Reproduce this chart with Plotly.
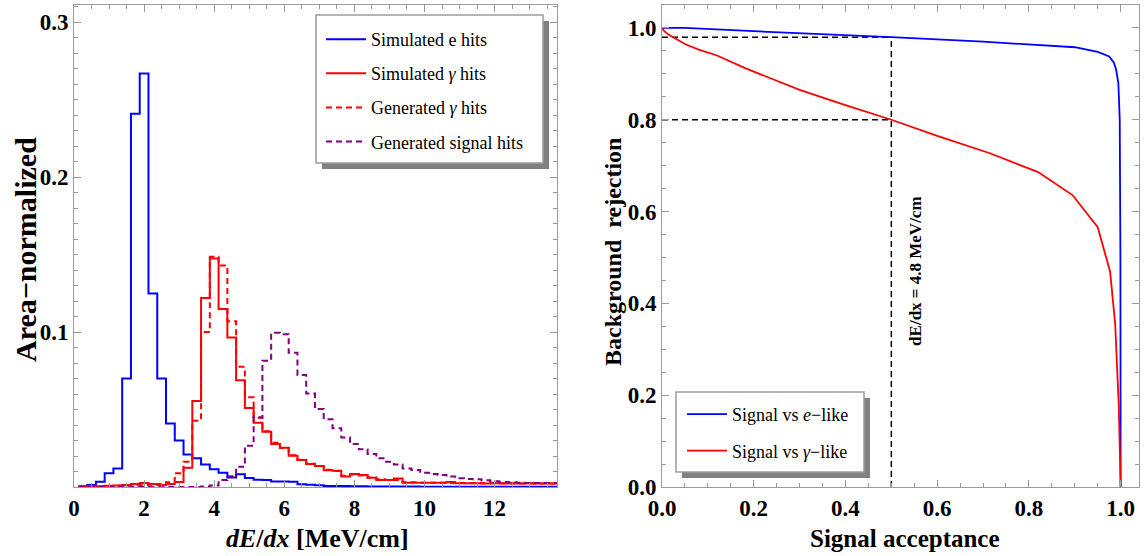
import plotly.graph_objects as go

# ---------------- data: left panel (area-normalized dE/dx histograms) ----------------
bin_start = 0.125
bin_width = 0.25

sim_e_hits = [0.0005, 0.0013, 0.0034, 0.0088, 0.0120, 0.0700, 0.2410, 0.2670, 0.1250, 0.0700,
              0.0410, 0.0300, 0.0210, 0.0185, 0.0145, 0.0114, 0.0092, 0.0062, 0.0083, 0.0058,
              0.0047, 0.0045, 0.0036, 0.0035, 0.0034, 0.0018, 0.0014, 0.0012, 0.0007, 0.0006,
              0.0006, 0.0005, 0.0005, 0.0004, 0.0004, 0.0004, 0.0003, 0.0003, 0.0003, 0.0002,
              0.0002, 0.0002, 0.0002, 0.0001, 0.0001, 0.0001, 0.0001, 0.0001, 0.0001, 0.0001,
              0.0001, 0.0001, 0.0001, 0.0001, 0.0001]

sim_gamma_hits = [0.0003, 0.0005, 0.0005, 0.0008, 0.0010, 0.0013, 0.0020, 0.0026, 0.0020, 0.0013,
                  0.0020, 0.0032, 0.0125, 0.0555, 0.1220, 0.1475, 0.1150, 0.0966, 0.0690, 0.0510,
                  0.0415, 0.0357, 0.0277, 0.0254, 0.0202, 0.0174, 0.0148, 0.0135, 0.0108, 0.0105,
                  0.0067, 0.0084, 0.0077, 0.0060, 0.0045, 0.0045, 0.0055, 0.0028, 0.0028, 0.0027,
                  0.0028, 0.0028, 0.0032, 0.0024, 0.0024, 0.0025, 0.0023, 0.0024, 0.0023, 0.0024,
                  0.0023, 0.0024, 0.0023, 0.0023, 0.0023]

gen_gamma_hits = [0.0002, 0.0003, 0.0004, 0.0005, 0.0008, 0.0010, 0.0012, 0.0012, 0.0015, 0.0020,
                  0.0030, 0.0088, 0.0163, 0.0428, 0.1000, 0.1486, 0.1430, 0.1070, 0.0776, 0.0580,
                  0.0447, 0.0360, 0.0285, 0.0252, 0.0205, 0.0176, 0.0150, 0.0135, 0.0112, 0.0104,
                  0.0072, 0.0080, 0.0075, 0.0062, 0.0050, 0.0046, 0.0045, 0.0031, 0.0030, 0.0028,
                  0.0027, 0.0027, 0.0026, 0.0026, 0.0025, 0.0025, 0.0024, 0.0024, 0.0024, 0.0023,
                  0.0023, 0.0023, 0.0023, 0.0023, 0.0023]

gen_signal_hits = [0.0000, 0.0000, 0.0000, 0.0000, 0.0000, 0.0000, 0.0000, 0.0000, 0.0000, 0.0000,
                   0.0000, 0.0000, 0.0000, 0.0000, 0.0003, 0.0010, 0.0045, 0.0070, 0.0130, 0.0267,
                   0.0450, 0.0815, 0.0996, 0.0987, 0.0866, 0.0723, 0.0604, 0.0503, 0.0437, 0.0379,
                   0.0320, 0.0277, 0.0243, 0.0213, 0.0185, 0.0163, 0.0146, 0.0120, 0.0110, 0.0092,
                   0.0084, 0.0077, 0.0067, 0.0056, 0.0052, 0.0050, 0.0043, 0.0037, 0.0032, 0.0030,
                   0.0028, 0.0026, 0.0026, 0.0026, 0.0026]

# ---------------- data: right panel (rejection vs acceptance) ----------------
e_like_acc = [0.0, 0.05, 0.2, 0.4, 0.5, 0.7, 0.9, 0.95, 0.975, 0.985, 0.99, 0.995, 0.998, 0.9995, 1.0]
e_like_rej = [1.0, 1.0, 0.993, 0.985, 0.980, 0.970, 0.958, 0.948, 0.938, 0.925, 0.910, 0.880, 0.800, 0.500, 0.0]

gamma_like_acc = [0.0, 0.005, 0.015, 0.03, 0.05, 0.08, 0.12, 0.18, 0.25, 0.30, 0.40, 0.50, 0.60,
                  0.715, 0.82, 0.895, 0.95, 0.977, 0.988, 0.996, 1.0]
gamma_like_rej = [1.0, 0.993, 0.985, 0.977, 0.965, 0.953, 0.940, 0.913, 0.885, 0.865, 0.832, 0.800,
                  0.765, 0.727, 0.686, 0.636, 0.566, 0.469, 0.356, 0.175, 0.0]

cut_acceptance = 0.5
cut_rej_e = 0.98
cut_rej_gamma = 0.80
cut_label = "dE/dx = 4.8 MeV/cm"

left_xticks = [0, 2, 4, 6, 8, 10, 12]
left_yticks = [0.1, 0.2, 0.3]
right_ticks = [0.0, 0.2, 0.4, 0.6, 0.8, 1.0]

# ---------------- figure ----------------
W, H = 1145, 556
FONT = "Liberation Serif"
BLUE, RED, PURPLE = "#0000FF", "#FF0000", "#800080"
FRAME = "#9a9a9a"


def px(x):
    return x / W


def py(y):
    return 1 - y / H


def steps(vals):
    edges = [bin_start + bin_width * k for k in range(len(vals) + 1)]
    return edges, list(vals) + [vals[-1]]


fig = go.Figure()

hist_specs = [
    ("Simulated e hits", sim_e_hits, BLUE, "solid"),
    ("Simulated <i>γ</i> hits", sim_gamma_hits, RED, "solid"),
    ("Generated <i>γ</i> hits", gen_gamma_hits, RED, "6px,4px"),
    ("Generated signal hits", gen_signal_hits, PURPLE, "6px,4px"),
]
for i, (name, vals, col, dash) in enumerate(hist_specs):
    xs, ys = steps(vals)
    fig.add_trace(go.Scatter(x=xs, y=ys, mode="lines", name=name, line_shape="hv",
                             line=dict(color=col, width=2, dash=dash),
                             xaxis="x", yaxis="y", legend="legend", legendgroup=f"h{i}"))

# dashed guide lines (right panel)
guide = dict(color="black", width=1.5, dash="6px,4px")
fig.add_trace(go.Scatter(x=[0, cut_acceptance], y=[cut_rej_e, cut_rej_e], mode="lines", line=guide,
                         xaxis="x2", yaxis="y2", showlegend=False, hoverinfo="skip"))
fig.add_trace(go.Scatter(x=[0, cut_acceptance], y=[cut_rej_gamma, cut_rej_gamma], mode="lines", line=guide,
                         xaxis="x2", yaxis="y2", showlegend=False, hoverinfo="skip"))
fig.add_trace(go.Scatter(x=[cut_acceptance, cut_acceptance], y=[0, cut_rej_e], mode="lines", line=guide,
                         xaxis="x2", yaxis="y2", showlegend=False, hoverinfo="skip"))

fig.add_trace(go.Scatter(x=e_like_acc, y=e_like_rej, mode="lines", name="Signal vs <i>e</i>−like",
                         line=dict(color=BLUE, width=1.8), xaxis="x2", yaxis="y2",
                         legend="legend2", legendgroup="r0"))
fig.add_trace(go.Scatter(x=gamma_like_acc, y=gamma_like_rej, mode="lines", name="Signal vs <i>γ</i>−like",
                         line=dict(color=RED, width=1.8), xaxis="x2", yaxis="y2",
                         legend="legend2", legendgroup="r1"))

tickfont = dict(family=FONT, size=23, color="black", weight="bold")
axis_common = dict(showgrid=False, zeroline=False, showline=True, linecolor=FRAME, linewidth=1,
                   mirror="ticks", ticks="inside", ticklen=7, tickcolor=FRAME, tickwidth=1,
                   tickfont=tickfont, automargin=False)

fig.update_layout(
    width=W, height=H, margin=dict(l=0, r=0, t=0, b=0),
    paper_bgcolor="white", plot_bgcolor="white",
    xaxis=dict(domain=[px(74), px(557)], range=[0, 13.78], tickvals=left_xticks,
               minor=dict(dtick=0.5, tick0=0, ticklen=4, ticks="inside", tickcolor=FRAME),
               anchor="y", **axis_common),
    yaxis=dict(domain=[1 - 487 / H, 1 - 5 / H], range=[0, 0.3112], tickvals=left_yticks,
               ticktext=[f"{v:.1f}" for v in left_yticks],
               minor=dict(dtick=0.01, tick0=0, ticklen=4, ticks="inside", tickcolor=FRAME),
               anchor="x", **axis_common),
    xaxis2=dict(domain=[px(662), px(1139)], range=[0, 1.04], tickvals=right_ticks,
                ticktext=[f"{v:.1f}" for v in right_ticks],
                minor=dict(dtick=0.05, tick0=0, ticklen=4, ticks="inside", tickcolor=FRAME),
                anchor="y2", **axis_common),
    yaxis2=dict(domain=[1 - 487 / H, 1 - 5 / H], range=[0, 1.05], tickvals=right_ticks,
                ticktext=[f"{v:.1f}" for v in right_ticks],
                minor=dict(dtick=0.05, tick0=0, ticklen=4, ticks="inside", tickcolor=FRAME),
                anchor="x2", **axis_common),
    legend=dict(x=px(321), y=py(21), xanchor="left", yanchor="top", bgcolor="rgba(0,0,0,0)",
                borderwidth=0, font=dict(family=FONT, size=18, color="black"),
                tracegroupgap=7.7, itemwidth=40),
    legend2=dict(x=px(682), y=py(396), xanchor="left", yanchor="top", bgcolor="rgba(0,0,0,0)",
                 borderwidth=0, font=dict(family=FONT, size=18, color="black"),
                 tracegroupgap=10, itemwidth=40),
    showlegend=True,
)

# legend boxes with drop shadows
for (x0, y0, x1, y1) in [(316, 15, 543, 163), (676, 392, 864, 472)]:
    fig.add_shape(type="rect", xref="paper", yref="paper", x0=px(x0 + 6), x1=px(x1 + 6),
                  y0=py(y1 + 6), y1=py(y0 + 6), fillcolor="#808080", line=dict(width=0), layer="above")
    fig.add_shape(type="rect", xref="paper", yref="paper", x0=px(x0), x1=px(x1),
                  y0=py(y1), y1=py(y0), fillcolor="white", line=dict(color="#9a9a9a", width=1.5),
                  layer="above")

title_font = dict(family=FONT, color="black", weight="bold")
common_ann = dict(showarrow=False, xanchor="center", yanchor="middle")
fig.add_annotation(text="Area−normalized", xref="paper", yref="paper", x=px(25), y=py(250),
                   textangle=-90, font=dict(size=30, **title_font), **common_ann)
fig.add_annotation(text="<i>dE</i>/<i>dx</i> [MeV/cm]", xref="paper", yref="paper", x=px(317), y=py(538),
                   font=dict(size=26, **title_font), **common_ann)
fig.add_annotation(text="Background\u00a0 rejection", xref="paper", yref="paper", x=px(613), y=py(252),
                   textangle=-90, font=dict(size=24, **title_font), **common_ann)
fig.add_annotation(text="Signal acceptance", xref="paper", yref="paper", x=px(905), y=py(538),
                   font=dict(size=25, **title_font), **common_ann)
fig.add_annotation(text=cut_label, xref="x2", yref="y2", x=0.553, y=0.47, textangle=-90,
                   font=dict(size=17, **title_font), **common_ann)

fig.write_html("out.html")
